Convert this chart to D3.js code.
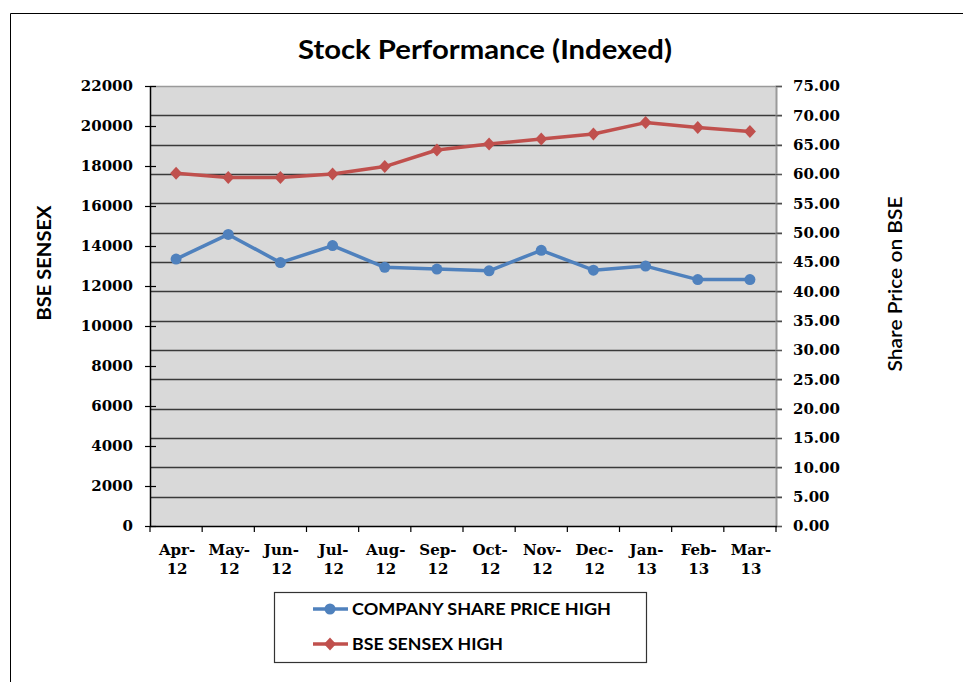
<!DOCTYPE html>
<html><head><meta charset="utf-8">
<script src="https://cdn.jsdelivr.net/npm/d3@7"></script>
<style>body{margin:0;background:#fff;}svg{display:block;}</style>
</head><body>
<script>
const months = ["Apr-|12","May-|12","Jun-|12","Jul-|12","Aug-|12","Sep-|12","Oct-|12","Nov-|12","Dec-|12","Jan-|13","Feb-|13","Mar-|13"];
const companyHigh = [45.5,49.7,44.9,47.8,44.1,43.8,43.5,47.0,43.6,44.3,42.0,42.0];
const sensexHigh = [17640,17420,17420,17600,17970,18800,19100,19350,19600,20170,19920,19720];
const leftTicks = [0,2000,4000,6000,8000,10000,12000,14000,16000,18000,20000,22000];
const rightTicks = [0,5,10,15,20,25,30,35,40,45,50,55,60,65,70,75];
const seriesNames = ["COMPANY SHARE PRICE HIGH","BSE SENSEX HIGH"];
const colors = ["#4F81BD","#C0504D"];

const W=963,H=682;
const svg=d3.select("body").append("svg").attr("width",W).attr("height",H);
const L=150,R=776,T=86,B=526;
const x=d3.scaleBand().domain(months).range([L,R]);
const yL=d3.scaleLinear().domain([0,22000]).range([B,T]);
const yR=d3.scaleLinear().domain([0,75]).range([B,T]);

// outer border
svg.append("path").attr("d",`M10.5,${H+5}V13.5H${W+5}`).attr("fill","none").attr("stroke","#000").attr("stroke-width",1);

// title
svg.append("text").attr("x",298).attr("y",59)
  .attr("font-family","Lato, sans-serif").attr("font-weight","bold").attr("font-size",26).attr("fill","#000")
  .attr("textLength",374).attr("lengthAdjust","spacingAndGlyphs")
  .text("Stock Performance (Indexed)");

// plot bg
svg.append("rect").attr("x",L).attr("y",T).attr("width",R-L).attr("height",B-T).attr("fill","#D9D9D9");

// gridlines (right axis)
svg.append("g").selectAll("line").data(rightTicks.filter(d=>d>0&&d<75)).join("line")
  .attr("x1",L).attr("x2",R+6).attr("y1",d=>Math.round(yR(d))+0.5).attr("y2",d=>Math.round(yR(d))+0.5)
  .attr("stroke","#3a3a3a").attr("stroke-width",1.6);
// top border
svg.append("line").attr("x1",L).attr("x2",R+6).attr("y1",T+0.5).attr("y2",T+0.5).attr("stroke","#9a9a9a").attr("stroke-width",1.5);

// right axis
const gR=svg.append("g").attr("transform",`translate(${R},0)`)
  .call(d3.axisRight(yR).tickValues(rightTicks).tickFormat(d3.format(".2f")).tickSize(6).tickPadding(11));
gR.select(".domain").attr("stroke","#9a9a9a").attr("stroke-width",2);
gR.selectAll(".tick line").attr("stroke","#555");
gR.selectAll("text").attr("font-family","DejaVu Serif, serif").attr("font-weight","bold").attr("font-size",15).attr("fill","#000");

// left axis
const gL=svg.append("g").attr("transform",`translate(${L},0)`)
  .call(d3.axisLeft(yL).tickValues(leftTicks).tickFormat(d=>d).tickSizeOuter(0).tickSize(0).tickPadding(17));
gL.select(".domain").attr("stroke","#000").attr("stroke-width",1.5);
gL.selectAll(".tick line").attr("x1",-5).attr("x2",6).attr("stroke","#000").attr("stroke-width",1.2);
gL.selectAll("text").attr("font-family","DejaVu Serif, serif").attr("font-weight","bold").attr("font-size",15).attr("fill","#000");

// bottom axis
svg.append("line").attr("x1",L).attr("x2",R+1).attr("y1",B+0.5).attr("y2",B+0.5).attr("stroke","#000").attr("stroke-width",1.5);
const bounds=months.map(m=>x(m)).concat([R]);
svg.append("g").selectAll("line").data(bounds).join("line")
  .attr("x1",d=>d).attr("x2",d=>d).attr("y1",B).attr("y2",B+6).attr("stroke","#000").attr("stroke-width",1.2);
const xl=svg.append("g").selectAll("text").data(months).join("text")
  .attr("x",d=>x(d)+x.bandwidth()/2+1).attr("y",555).attr("text-anchor","middle")
  .attr("font-family","DejaVu Serif, serif").attr("font-weight","bold").attr("font-size",15).attr("fill","#000");
xl.append("tspan").attr("x",d=>x(d)+x.bandwidth()/2+1).text(d=>d.split("|")[0]);
xl.append("tspan").attr("x",d=>x(d)+x.bandwidth()/2+1).attr("dy",19).text(d=>d.split("|")[1]);

// axis titles
svg.append("text").attr("transform","translate(51,263) rotate(-90)").attr("text-anchor","middle")
  .attr("font-family","Lato, sans-serif").attr("font-weight","bold").attr("font-size",19).attr("fill","#000")
  .attr("textLength",115).attr("lengthAdjust","spacingAndGlyphs").text("BSE SENSEX");
svg.append("text").attr("transform","translate(902,284) rotate(-90)").attr("text-anchor","middle")
  .attr("font-family","Lato, sans-serif").attr("font-weight","600").attr("font-size",19).attr("fill","#000")
  .attr("textLength",175).attr("lengthAdjust","spacingAndGlyphs").text("Share Price on BSE");

// lines
const cx=m=>x(m)+x.bandwidth()/2;
const lineB=d3.line().x((d,i)=>cx(months[i])).y(d=>yR(d));
const lineR=d3.line().x((d,i)=>cx(months[i])).y(d=>yL(d));
svg.append("path").datum(sensexHigh).attr("d",lineR).attr("fill","none").attr("stroke",colors[1]).attr("stroke-width",3.5).attr("stroke-linejoin","round");
svg.append("path").datum(companyHigh).attr("d",lineB).attr("fill","none").attr("stroke",colors[0]).attr("stroke-width",3.5).attr("stroke-linejoin","round");
const diamond="M0,-6.5L6,0L0,6.5L-6,0Z";
svg.append("g").selectAll("path").data(sensexHigh).join("path")
  .attr("d",diamond).attr("transform",(d,i)=>`translate(${cx(months[i])},${yL(d)})`).attr("fill",colors[1]);
svg.append("g").selectAll("circle").data(companyHigh).join("circle")
  .attr("cx",(d,i)=>cx(months[i])).attr("cy",d=>yR(d)).attr("r",5.5).attr("fill",colors[0]);

// legend
svg.append("rect").attr("x",274.5).attr("y",592.5).attr("width",372).attr("height",70).attr("fill","#fff").attr("stroke","#333").attr("stroke-width",1.2);
const ly=[609,644];
const lw=[259,151];
seriesNames.forEach((n,i)=>{
  svg.append("line").attr("x1",313).attr("x2",348).attr("y1",ly[i]).attr("y2",ly[i]).attr("stroke",colors[i]).attr("stroke-width",3.5);
  if(i===0) svg.append("circle").attr("cx",330).attr("cy",ly[i]).attr("r",5.5).attr("fill",colors[i]);
  else svg.append("path").attr("d",diamond).attr("transform",`translate(330,${ly[i]})`).attr("fill",colors[i]);
  svg.append("text").attr("x",352).attr("y",ly[i]+6).attr("font-family","Lato, sans-serif").attr("font-weight","bold")
    .attr("font-size",17).attr("fill","#000").attr("textLength",lw[i]).attr("lengthAdjust","spacingAndGlyphs").text(n);
});
</script>
</body></html>
